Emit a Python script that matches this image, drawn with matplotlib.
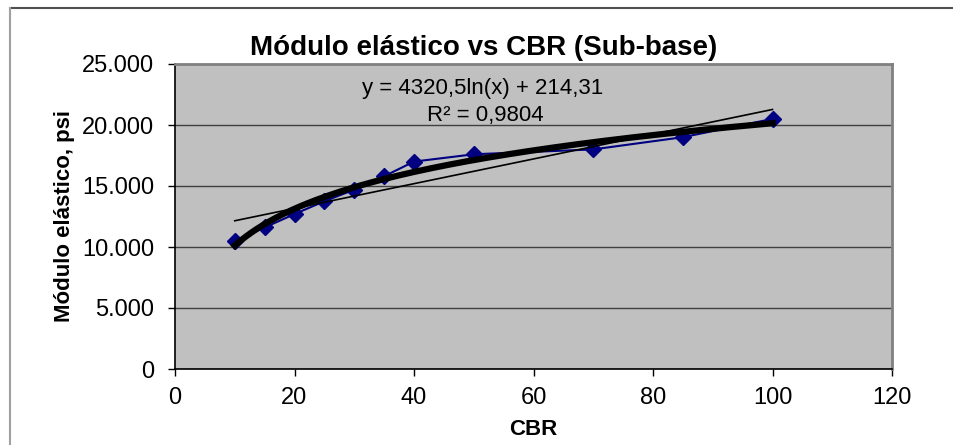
import numpy as np
import matplotlib
matplotlib.use("Agg")
import matplotlib.pyplot as plt
from matplotlib.lines import Line2D
from matplotlib.ticker import FuncFormatter

# --- Datos ---
cbr = [10, 15, 20, 25, 30, 35, 40, 50, 70, 85, 100]
modulo = [10500, 11600, 12700, 13750, 14700, 15800, 17000, 17600, 18000, 19000, 20500]
titulo = "Módulo elástico vs CBR (Sub-base)"
ecuacion = "y = 4320,5ln(x) + 214,31"
r2_texto = "R² = 0,9804"

plt.rcParams['font.family'] = ['Liberation Sans', 'DejaVu Sans']

fig = plt.figure(figsize=(9.54, 4.45), dpi=100)
ax = fig.add_axes([175 / 954, 76 / 445, 717 / 954, 305 / 445])
ax.set_facecolor('#C0C0C0')

# marco del área del gráfico
fig.add_artist(Line2D([10 / 954, 1], [1 - 8 / 445, 1 - 8 / 445], color='#505050', lw=1.5))
fig.add_artist(Line2D([10 / 954, 10 / 954], [0, 1 - 8 / 445], color='#A0A0A0', lw=1.5))

# --- Líneas de tendencia ---
x = np.array(cbr, dtype=float)
y = np.array(modulo, dtype=float)
xs = np.linspace(x.min(), x.max(), 200)
a, b = np.polyfit(np.log(x), y, 1)
m, c = np.polyfit(x, y, 1)

ax.plot(x, y, color='#000080', lw=1.5, marker='D', markersize=8,
        markerfacecolor='#000080', markeredgecolor='#000080', zorder=3)
ax.plot(xs, a * np.log(xs) + b, color='black', lw=4.5, zorder=4)
ax.plot(xs, m * xs + c, color='black', lw=1.2, zorder=4)

ax.text(51.5, 23000, ecuacion, ha='center', va='center', fontsize=16)
ax.text(52, 20750, r2_texto, ha='center', va='center', fontsize=16)

# --- Ejes ---
ax.set_xlim(0, 120)
ax.set_ylim(0, 25000)
ax.set_xticks(range(0, 121, 20))
ax.set_yticks(range(0, 25001, 5000))
ax.yaxis.set_major_formatter(FuncFormatter(lambda v, p: f"{int(v):,}".replace(',', '.')))
ax.grid(axis='y', color='#404040', lw=1)
ax.set_axisbelow(True)
ax.tick_params(labelsize=17, length=5, width=1, color='black')
ax.tick_params(axis='y', pad=10)
ax.tick_params(axis='x', pad=8)

for s in ['left', 'bottom']:
    ax.spines[s].set_color('black')
    ax.spines[s].set_linewidth(1.2)
for s in ['right', 'top']:
    ax.spines[s].set_color('#808080')
    ax.spines[s].set_linewidth(2)

ax.set_xlabel("CBR", fontsize=16, fontweight='bold', labelpad=7)
ax.set_ylabel("Módulo elástico, psi", fontsize=16, fontweight='bold', labelpad=5)
fig.text(484 / 954, 1 - 48 / 445, titulo, ha='center', va='center', fontsize=20, fontweight='bold')

fig.savefig("out.png", dpi=100)
